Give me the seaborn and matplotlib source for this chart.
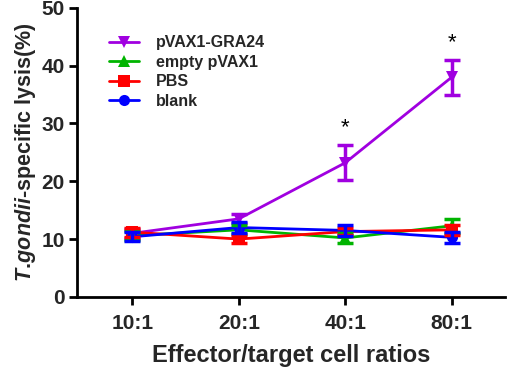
import numpy as np
import pandas as pd
import matplotlib
matplotlib.use('Agg')
import matplotlib.pyplot as plt
import seaborn as sns

ratios = ['10:1', '20:1', '40:1', '80:1']
groups = ['pVAX1-GRA24', 'empty pVAX1', 'PBS', 'blank']
gra24 = [11.0, 13.5, 23.2, 38.0]
gra24_err = [0.8, 0.8, 3.0, 3.0]
empty = [10.6, 11.6, 10.2, 12.3]
empty_err = [0.8, 0.8, 0.8, 1.2]
pbs = [11.2, 10.0, 11.3, 11.6]
pbs_err = [0.8, 0.6, 0.6, 0.9]
blank = [10.4, 12.0, 11.5, 10.3]
blank_err = [0.8, 1.0, 1.0, 0.9]
stars = ['', '', '*', '*']

colors = ['#A000E0', '#00B400', '#FF0000', '#0000FF']
markers = ['v', '^', 's', 'o']

vals = [gra24, empty, pbs, blank]
errs = [gra24_err, empty_err, pbs_err, blank_err]
df = pd.DataFrame({
    'ratio': ratios * 4,
    'group': np.repeat(groups, 4),
    'lysis': np.concatenate(vals),
})

sns.set_theme(style='ticks')
plt.rcParams['font.family'] = ['Liberation Sans', 'DejaVu Sans']
plt.rcParams['mathtext.fontset'] = 'custom'
plt.rcParams['mathtext.it'] = 'Liberation Sans:italic:bold'
plt.rcParams['mathtext.rm'] = 'Liberation Sans:bold'

fig = plt.figure(figsize=(5.1, 3.73), dpi=100)
ax = fig.add_axes([0.151, 0.204, 0.839, 0.775])

sns.lineplot(data=df, x='ratio', y='lysis', hue='group', style='group',
             hue_order=groups, style_order=groups, palette=colors,
             markers=markers, dashes=False, markersize=8, linewidth=2,
             markeredgewidth=0, ax=ax)

for i, g in enumerate(groups):
    ax.errorbar(range(4), vals[i], yerr=errs[i], fmt='none', ecolor=colors[i],
                elinewidth=2.5, capsize=6, capthick=2.5)

for i, s in enumerate(stars):
    if s:
        ax.text(i, vals[0][i] + errs[0][i] + 1.2, s, ha='center', va='bottom',
                fontsize=16, color='black')

ax.set_xlim(-0.52, 3.5)
ax.set_ylim(0, 50)
ax.set_yticks([0, 10, 20, 30, 40, 50])
ax.set_xlabel('Effector/target cell ratios', fontsize=17, fontweight='bold', labelpad=8)
ax.set_ylabel(r'$\mathit{T.\!gondii}$-specific lysis(%)', fontsize=15.5, fontweight='bold', labelpad=2)
for lab in ax.get_xticklabels() + ax.get_yticklabels():
    lab.set_fontweight('bold')
    lab.set_fontsize(15)
for sp in ['left', 'bottom']:
    ax.spines[sp].set_linewidth(2)
    ax.spines[sp].set_color('black')
sns.despine(ax=ax)
ax.tick_params(width=2, length=6, color='black', direction='out')
ax.tick_params(axis='x', pad=6)
ax.tick_params(axis='y', pad=3)

leg = ax.legend(loc='upper left', bbox_to_anchor=(0.04, 0.955), frameon=False,
                prop={'weight': 'bold', 'size': 11.5}, handlelength=1.9,
                labelspacing=0.28, handletextpad=1.05)

fig.savefig('out.png', dpi=100)
